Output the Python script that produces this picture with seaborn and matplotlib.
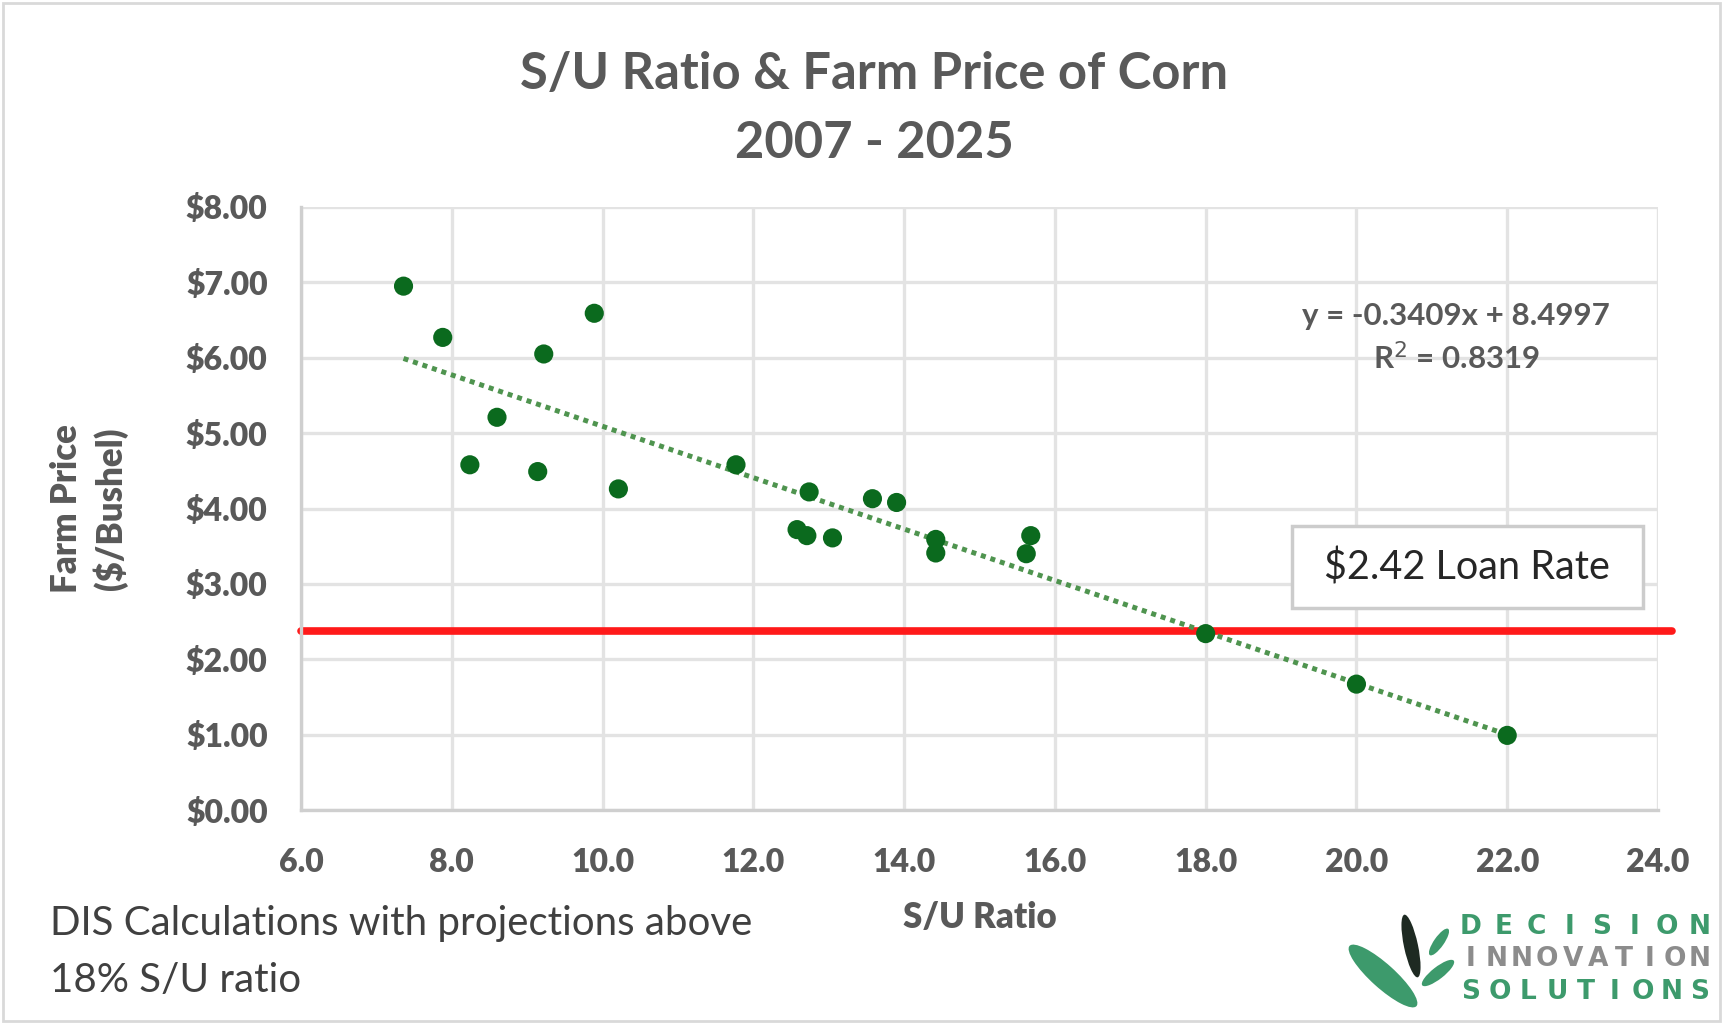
import numpy as np
import pandas as pd
import matplotlib
matplotlib.use("Agg")
import matplotlib.pyplot as plt
from matplotlib.patches import Ellipse, Rectangle
import seaborn as sns

# ---- data ----
su_ratio = [7.36, 7.88, 9.89, 9.22, 8.60, 8.24, 9.14, 10.21, 11.77, 12.74, 13.58,
            13.90, 12.58, 12.71, 13.05, 14.42, 14.42, 15.68, 15.62, 18.0, 20.0, 22.0]
farm_price = [6.95, 6.27, 6.59, 6.05, 5.21, 4.58, 4.49, 4.26, 4.58, 4.22, 4.13,
              4.08, 3.72, 3.64, 3.61, 3.59, 3.41, 3.64, 3.40, 2.34, 1.67, 0.99]
trend_slope = -0.3409
trend_intercept = 8.4997
r_squared = 0.8319
loan_rate_line = 2.38
x_ticks = [6.0, 8.0, 10.0, 12.0, 14.0, 16.0, 18.0, 20.0, 22.0, 24.0]
y_ticks = [0, 1, 2, 3, 4, 5, 6, 7, 8]

df = pd.DataFrame({"su": su_ratio, "price": farm_price})

sns.set_theme(style="white")
plt.rcParams["font.family"] = ["Lato", "DejaVu Sans"]

W, H = 1723, 1024
fig = plt.figure(figsize=(W / 100, H / 100), dpi=100)
fig.patch.set_facecolor("white")

L, R, T, B = 301, 1658, 207, 810
ax = fig.add_axes([L / W, 1 - B / H, (R - L) / W, (B - T) / H])

grid_c = "#e3e3e3"
ax.set_xlim(6, 24)
ax.set_ylim(0, 8)
ax.set_xticks(x_ticks)
ax.set_yticks(y_ticks)
ax.grid(True, color=grid_c, linewidth=2.4)
ax.set_axisbelow(True)
for s in ["top", "right"]:
    ax.spines[s].set_visible(False)
ax.spines["left"].set_color("#cfcfcf")
ax.spines["left"].set_linewidth(2.4)
ax.spines["bottom"].set_color("#cfcfcf")
ax.spines["bottom"].set_linewidth(2.4)

tick_c = "#595959"
ax.set_xticklabels([f"{v:.1f}" for v in x_ticks], fontsize=23, fontweight="heavy", color=tick_c)
ax.set_yticklabels([f"${v:.2f}" for v in y_ticks], fontsize=23, fontweight="heavy", color=tick_c)
ax.tick_params(axis="both", length=0)
ax.tick_params(axis="x", pad=27)
ax.tick_params(axis="y", pad=24)

# loan rate line
ax.axhline(loan_rate_line, xmin=0, xmax=1.01, color="#ff1a1a", linewidth=5.5, clip_on=False, zorder=2)

# trend line
xs = np.array([min(su_ratio), max(su_ratio)])
ax.plot(xs, trend_slope * xs + trend_intercept, color="#4f944f", linewidth=3.6,
        linestyle=(0, (1, 1)), zorder=3)

# scatter
sns.scatterplot(data=df, x="su", y="price", ax=ax, color="#0b6a1e", s=190,
                edgecolor="none", zorder=4, legend=False)

ax.set_xlabel("S/U Ratio", fontsize=25, fontweight="heavy", color=tick_c, labelpad=18)
ax.set_ylabel("Farm Price\n($/Bushel)", fontsize=25, fontweight="heavy", color=tick_c,
              labelpad=42, linespacing=1.3)

# overlay in pixel coordinates
ov = fig.add_axes([0, 0, 1, 1])
ov.set_xlim(0, W)
ov.set_ylim(H, 0)
ov.axis("off")
ov.patch.set_alpha(0)

ov.add_patch(Rectangle((3, 3), W - 6, H - 6, fill=False, edgecolor="#d9d9d9", linewidth=2))

ov.text(874, 75, "S/U Ratio & Farm Price of Corn", ha="center", va="center",
        fontsize=36.5, fontweight="bold", color="#595959")
ov.text(874, 144, "2007 - 2025", ha="center", va="center",
        fontsize=36.5, fontweight="bold", color="#595959")

ov.text(1456, 316, f"y = {trend_slope}x + {trend_intercept}", ha="center", va="center",
        fontsize=22.5, fontweight="bold", color="#595959")
ov.text(1456, 358, f"R$^2$ = {r_squared}", ha="center", va="center",
        fontsize=22.5, fontweight="bold", color="#595959")

ov.add_patch(Rectangle((1292, 526), 351, 82, facecolor="white", edgecolor="#cccccc",
                       linewidth=2.5, zorder=5))
ov.text(1467, 568, f"$2.42 Loan Rate", ha="center", va="center", fontsize=28.5,
        color="#262626", zorder=6)

ov.text(50, 923, "DIS Calculations with projections above", ha="left", va="center",
        fontsize=29, color="#404040")
ov.text(50, 980, "18% S/U ratio", ha="left", va="center", fontsize=29, color="#404040")

# logo
green = "#3d9a6c"
ov.add_patch(Ellipse((1383, 976), 90, 24, angle=42, facecolor=green, edgecolor="none"))
ov.add_patch(Ellipse((1411, 946), 64, 14, angle=78, facecolor="#1e2a22", edgecolor="none"))
ov.add_patch(Ellipse((1439, 942), 32, 10, angle=-55, facecolor=green, edgecolor="none"))
ov.add_patch(Ellipse((1438, 973), 40, 12, angle=-38, facecolor=green, edgecolor="none"))

words = [("DECISION", 927, green), ("INNOVATION", 959, "#8c8c8c"), ("SOLUTIONS", 992, green)]
x0, x1 = 1471, 1700
for word, yy, col in words:
    n = len(word)
    for i, ch in enumerate(word):
        xx = x0 + (x1 - x0) * i / (n - 1)
        ov.text(xx, yy, ch, ha="center", va="center", fontsize=19, fontweight="bold",
                color=col, family=["DejaVu Sans"])

fig.savefig("out.png", dpi=100, facecolor="white")
